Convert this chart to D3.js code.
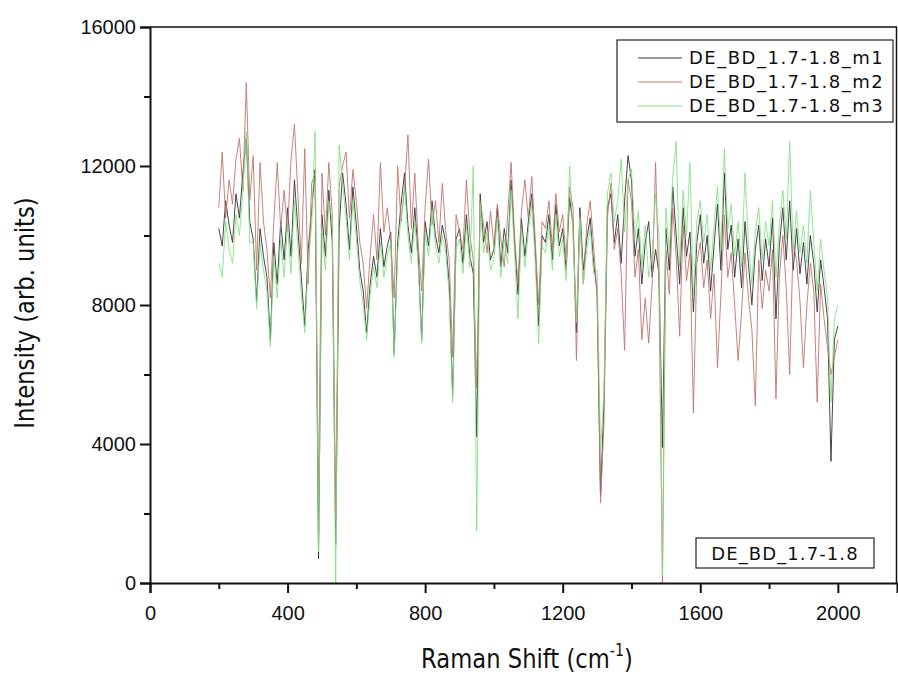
<!DOCTYPE html>
<html><head><meta charset="utf-8">
<script src="https://cdn.jsdelivr.net/npm/d3@7"></script>
<style>body{margin:0;background:#fff}</style>
</head><body>
<script>
// Raman shift grid (cm^-1): 200..2000 step 10
const shiftStart = 200, shiftStep = 10;
const xTicks = [0, 400, 800, 1200, 1600, 2000];
const yTicks = [0, 4000, 8000, 12000, 16000];
const seriesNames = ["DE_BD_1.7-1.8_m1", "DE_BD_1.7-1.8_m2", "DE_BD_1.7-1.8_m3"];
const sampleLabel = "DE_BD_1.7-1.8";

const m1 = [
10200,9700,11000,10300,9800,11200,10500,11800,12800,10400,
9900,8100,10200,9400,8800,7000,9800,8600,10400,9300,
10800,9400,11600,10200,8800,7400,9600,10700,11900,700,
10600,9400,11300,9800,1100,10200,11800,10900,9600,11400,
10300,9000,8400,7200,8600,9400,8800,10200,9100,9700,
10100,6600,9800,10900,11800,10300,9500,10800,9400,7000,
10400,9700,11000,10000,9500,10300,9800,8600,5400,9900,
10200,9200,10600,9400,8900,4200,11200,9800,10400,9300,
9600,10800,9100,10200,9500,11600,9800,8300,10500,9400,
10400,11200,9600,7400,10000,9800,10600,9300,10900,9700,
10200,9000,11100,10300,7200,10800,9000,9900,10500,9200,
8400,2500,5200,10800,11200,9800,10600,9200,11000,12300,
11600,9400,10200,8600,9800,10400,8800,9600,8900,3900,
10200,9000,11400,10000,8600,10800,9400,10100,7800,9800,
10600,9200,10000,8400,9700,10900,9000,11800,9600,10300,
8800,9900,8500,10400,9200,8000,9600,10300,8700,9900,
9100,10500,7600,9700,10800,9300,11000,9000,10200,8900,
9800,8600,10000,9200,7800,9300,8500,7600,3500,7000,
7400];
const m2 = [
10800,12400,10500,11600,10900,12200,12800,11300,14400,11000,
12300,9000,12100,10400,9600,8200,10400,12100,10200,11300,
10100,12200,13200,11200,9200,12500,8600,11500,11800,2400,
11800,10000,12100,10600,1800,11400,12000,12400,10500,11900,
11000,9800,9200,7900,9400,10600,9300,12100,10100,10800,
9900,8200,12000,10400,11300,12900,10200,11800,9700,8400,
10800,12200,10300,11000,9800,11500,10100,9300,6500,10600,
10100,9600,11600,10000,9300,5600,11000,10300,9500,10700,
9700,10900,9900,9100,10600,12100,10000,8600,10700,11600,
10500,11700,9900,8000,10400,10200,11000,9600,11200,10100,
10600,9300,11400,10800,6400,10600,8600,10300,11000,9700,
8200,2300,4600,10500,11500,9600,10200,8900,6700,11600,
11000,8800,9600,7000,8200,6900,8600,12100,8400,0,
9600,8300,10800,9400,7100,10300,8700,9500,4900,9200,
9800,8500,9300,7600,8900,6200,8300,10600,8800,9500,
8000,6400,7800,9500,8200,7300,5100,9300,7900,9000,
8400,9600,5300,8800,10000,8500,6000,9800,9300,8100,
6200,8000,9200,8400,5200,8600,7600,6800,6000,6500,
7000];
const m3 = [
9200,8800,10400,9600,9200,10600,10000,11200,13000,9800,
9800,7900,9800,9000,8400,6800,9400,8200,9900,8800,
10300,8900,11000,9700,8300,7200,9200,10300,13000,900,
10200,9000,11000,10400,0,12600,11500,10500,9300,11000,
9900,8700,8000,7000,8300,9100,8500,9800,8800,9400,
9800,6500,9500,10500,11400,10000,9200,10400,9100,6900,
10100,9400,10700,9700,9200,10000,9500,8300,5200,9600,
9900,8900,10300,9100,12000,1500,10900,9500,10100,9000,
9300,10500,8800,9900,9200,11300,9500,7600,10200,9100,
10100,10900,9300,6900,9700,9500,10300,9000,10600,9400,
9900,8700,12000,10000,7500,10500,8600,9600,10200,8900,
9000,3800,5500,11200,11800,10400,11000,12200,10100,11600,
11900,9900,10700,9100,10300,8800,9400,11200,10000,200,
10800,9500,11700,12700,9100,11300,10000,12100,8200,10400,
11000,9800,10600,9000,10300,11400,9600,12500,10200,10900,
9400,10400,9100,11800,9800,8600,10100,10800,9300,10400,
9700,11000,8800,10300,11300,9900,12700,9600,10700,9500,
10300,9200,11300,9800,8400,9900,9000,8200,5200,7600,
8000];

const colors = ["#333333", "#c0766c", "#7ee07e"];
const W = 898, H = 675;
const L = 150, T = 27, R = 897, B = 583;

const svg = d3.select("body").append("svg").attr("width", W).attr("height", H)
  .style("font-family", "DejaVu Sans, Verdana, sans-serif");

const x = d3.scaleLinear().domain([0, 2172]).range([L, R]);
const y = d3.scaleLinear().domain([0, 16000]).range([B, T]);

const shift = m1.map((_, i) => shiftStart + i * shiftStep);
const series = [m1, m2, m3];

const line = d3.line().x(d => x(d[0])).y(d => y(d[1]));
const g = svg.append("g");
series.forEach((s, k) => {
  g.append("path")
    .datum(s.map((v, i) => [shift[i], v]))
    .attr("d", line)
    .attr("fill", "none")
    .attr("stroke", colors[k])
    .attr("stroke-width", 1)
    .attr("stroke-opacity", k === 2 ? 0.85 : 0.9);
});

// frame
svg.append("line").attr("x1", L).attr("x2", R).attr("y1", T).attr("y2", T).attr("stroke", "#111").attr("stroke-width", 1.5);
svg.append("line").attr("x1", R - 0.5).attr("x2", R - 0.5).attr("y1", T).attr("y2", B).attr("stroke", "#111").attr("stroke-width", 1.5);

// axes
const tickFont = "'Liberation Sans', Arial, sans-serif";
const xAxis = d3.axisBottom(x).tickValues(xTicks).tickSize(10).tickFormat(d3.format("d"));
const xMinor = d3.axisBottom(x).tickValues(d3.range(200, 2172, 400)).tickSize(6).tickFormat("");
const yAxis = d3.axisLeft(y).tickValues(yTicks).tickSize(10).tickFormat(d3.format("d"));
const yMinor = d3.axisLeft(y).tickValues(d3.range(2000, 16000, 4000)).tickSize(6).tickFormat("");

function styleAxis(sel) {
  sel.select(".domain").attr("stroke", "#111").attr("stroke-width", 2);
  sel.selectAll(".tick line").attr("stroke", "#111").attr("stroke-width", 2);
  sel.selectAll(".tick text").attr("fill", "#111").style("font-family", tickFont).style("font-size", "20px");
}
const gx = svg.append("g").attr("transform", `translate(0,${B})`).call(xAxis).call(styleAxis);
gx.selectAll(".tick text").attr("dy", "0").attr("y", 37);
svg.append("g").attr("transform", `translate(0,${B})`).call(xMinor).call(styleAxis).select(".domain").remove();
const gy = svg.append("g").attr("transform", `translate(${L},0)`).call(yAxis).call(styleAxis);
gy.selectAll(".tick text").attr("x", -14);
svg.append("g").attr("transform", `translate(${L},0)`).call(yMinor).call(styleAxis).select(".domain").remove();

// axis titles
const xt = svg.append("text").attr("transform", "translate(527,668) scale(0.84,1)").attr("text-anchor", "middle")
  .style("font-size", "27px").attr("fill", "#111");
xt.append("tspan").text("Raman Shift (cm");
xt.append("tspan").attr("dy", -12).style("font-size", "17px").text("-1");
xt.append("tspan").attr("dy", 12).text(")");

svg.append("text").attr("transform", "translate(34,313) rotate(-90) scale(0.84,1)").attr("text-anchor", "middle")
  .style("font-size", "27px").attr("fill", "#111").text("Intensity (arb. units)");

// legend
const lg = svg.append("g");
lg.append("rect").attr("x", 617).attr("y", 40).attr("width", 276).attr("height", 82)
  .attr("fill", "#fff").attr("stroke", "#222").attr("stroke-width", 1.2);
seriesNames.forEach((n, k) => {
  const yy = 58 + k * 24;
  lg.append("line").attr("x1", 638).attr("x2", 682).attr("y1", yy).attr("y2", yy)
    .attr("stroke", colors[k]).attr("stroke-width", 1);
  lg.append("text").attr("x", 689).attr("y", yy + 6).style("font-size", "18px")
    .style("letter-spacing", "1.5px").attr("fill", "#111").text(n);
});

// sample label box
svg.append("rect").attr("x", 696).attr("y", 538).attr("width", 178).attr("height", 30)
  .attr("fill", "#fff").attr("stroke", "#222").attr("stroke-width", 1.2);
svg.append("text").attr("x", 785).attr("y", 560).attr("text-anchor", "middle")
  .style("font-size", "18px").style("letter-spacing", "1.1px").attr("fill", "#111").text(sampleLabel);
</script>
</body></html>
